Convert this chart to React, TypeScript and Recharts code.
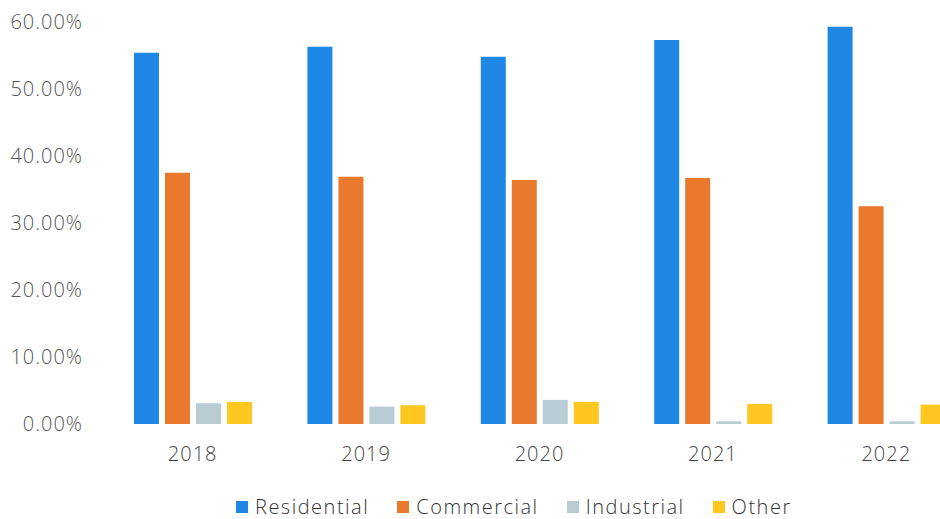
import { Bar, BarChart, XAxis, YAxis } from "recharts";

const years = ["2018", "2019", "2020", "2021", "2022"];
const residential = [55.4, 56.3, 54.8, 57.3, 59.3];
const commercial = [37.5, 36.9, 36.4, 36.7, 32.5];
const industrial = [3.1, 2.6, 3.6, 0.4, 0.4];
const other = [3.3, 2.8, 3.3, 3.0, 2.9];
const yTicks = [0, 10, 20, 30, 40, 50, 60];

const series = [
  { key: "residential", name: "Residential", color: "#1f88e5" },
  { key: "commercial", name: "Commercial", color: "#e9792d" },
  { key: "industrial", name: "Industrial", color: "#b9ccd4" },
  { key: "other", name: "Other", color: "#ffc71f" },
];

const data = years.map((year, i) => ({
  year,
  residential: residential[i],
  commercial: commercial[i],
  industrial: industrial[i],
  other: other[i],
}));

const font = "'Open Sans', sans-serif";

export default function App() {
  return (
    <div
      style={{
        position: "fixed",
        left: 0,
        top: 0,
        width: 940,
        height: 519,
        overflow: "hidden",
        background: "#fff",
        fontFamily: font,
      }}
    >
      <BarChart
        width={980}
        height={519}
        data={data}
        margin={{ top: 22, right: 7, left: 0, bottom: 0 }}
        barSize={25}
        barGap={6}
      >
        <XAxis
          dataKey="year"
          height={95}
          axisLine={false}
          tickLine={false}
          tickMargin={17}
          tick={{ fill: "#444", fontSize: 20, fontFamily: font, letterSpacing: 1, fontWeight: 300 }}
        />
        <YAxis
          width={106}
          domain={[0, 60]}
          ticks={yTicks}
          axisLine={false}
          tickLine={false}
          tickMargin={17}
          tickFormatter={(v) => `${v.toFixed(2)}%`}
          tick={{ fill: "#555", fontSize: 20, fontFamily: font, letterSpacing: 1, fontWeight: 300 }}
        />
        {series.map((s) => (
          <Bar key={s.key} dataKey={s.key} name={s.name} fill={s.color} isAnimationActive={false} />
        ))}
      </BarChart>
      <div
        style={{
          position: "absolute",
          top: 495,
          left: 236,
          display: "flex",
          alignItems: "center",
          gap: 28,
          fontSize: 20,
          color: "#333",
          letterSpacing: 1.5,
          fontWeight: 300,
          lineHeight: "24px",
        }}
      >
        {series.map((s) => (
          <div key={s.key} style={{ display: "flex", alignItems: "center" }}>
            <span style={{ width: 12, height: 12, background: s.color, marginRight: 7, display: "inline-block" }} />
            <span>{s.name}</span>
          </div>
        ))}
      </div>
    </div>
  );
}
